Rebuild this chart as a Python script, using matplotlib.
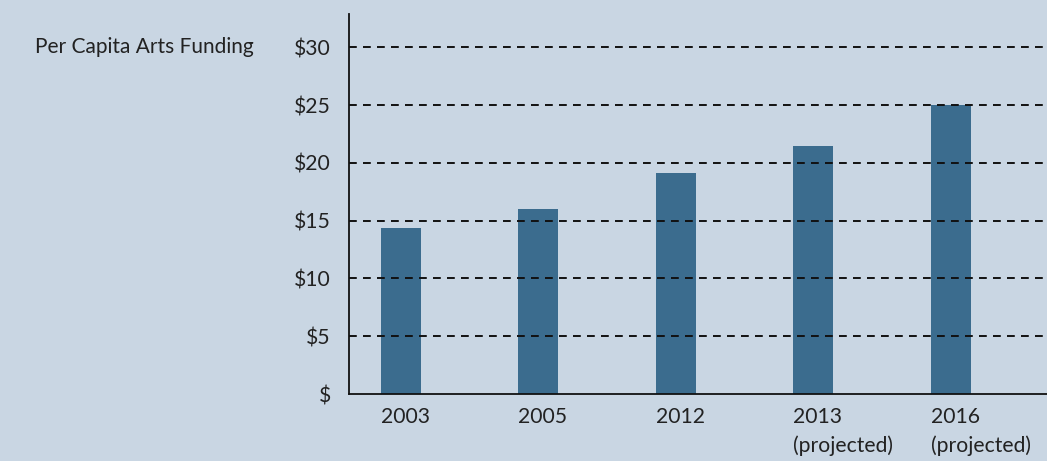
import matplotlib.pyplot as plt

plt.rcParams['font.family'] = ['Lato', 'DejaVu Sans']

years = ['2003', '2005', '2012', '2013\n(projected)', '2016\n(projected)']
funding = [14.35, 16.0, 19.1, 21.45, 25.05]
yticks = [0, 5, 10, 15, 20, 25, 30]
ytick_labels = ['$', '$5', '$10', '$15', '$20', '$25', '$30']

bg = '#c9d6e3'
bar_col = '#3b6c8e'
txt = '#222222'
bar_w = 0.29

fig = plt.figure(figsize=(10.47, 4.61), dpi=100, facecolor=bg)
ax = fig.add_axes([349/1047, (461-394)/461, (1047-349)/1047, (394-14)/461])
ax.set_facecolor(bg)

x = list(range(len(years)))
ax.bar(x, funding, width=bar_w, color=bar_col, zorder=2)

# dashed reference lines
for v in yticks[1:]:
    ax.axhline(v, color='#111111', lw=1.4, ls=(0, (4, 3.2)), zorder=3)

ax.set_xlim(-0.378, 4.70)
ax.set_ylim(0, 32.9)
# labels start at the left edge of each bar
ax.set_xticks([i - bar_w / 2 for i in x])
ax.set_xticklabels(years, fontsize=15.2, color=txt, linespacing=1.55,
                   ha='left', va='top')
ax.set_yticks(yticks)
ax.set_yticklabels(ytick_labels, fontsize=15.2, color=txt)
ax.tick_params(length=0)
ax.tick_params(axis='y', pad=13)
ax.tick_params(axis='x', pad=9)

for s in ['top', 'right']:
    ax.spines[s].set_visible(False)
for s in ['left', 'bottom']:
    ax.spines[s].set_color('#111111')
    ax.spines[s].set_linewidth(1.3)

fig.text(35/1047, 1 - 47/461, 'Per Capita Arts Funding', fontsize=15,
         color=txt, va='center', ha='left')

fig.savefig('out.png', dpi=100, facecolor=bg)
